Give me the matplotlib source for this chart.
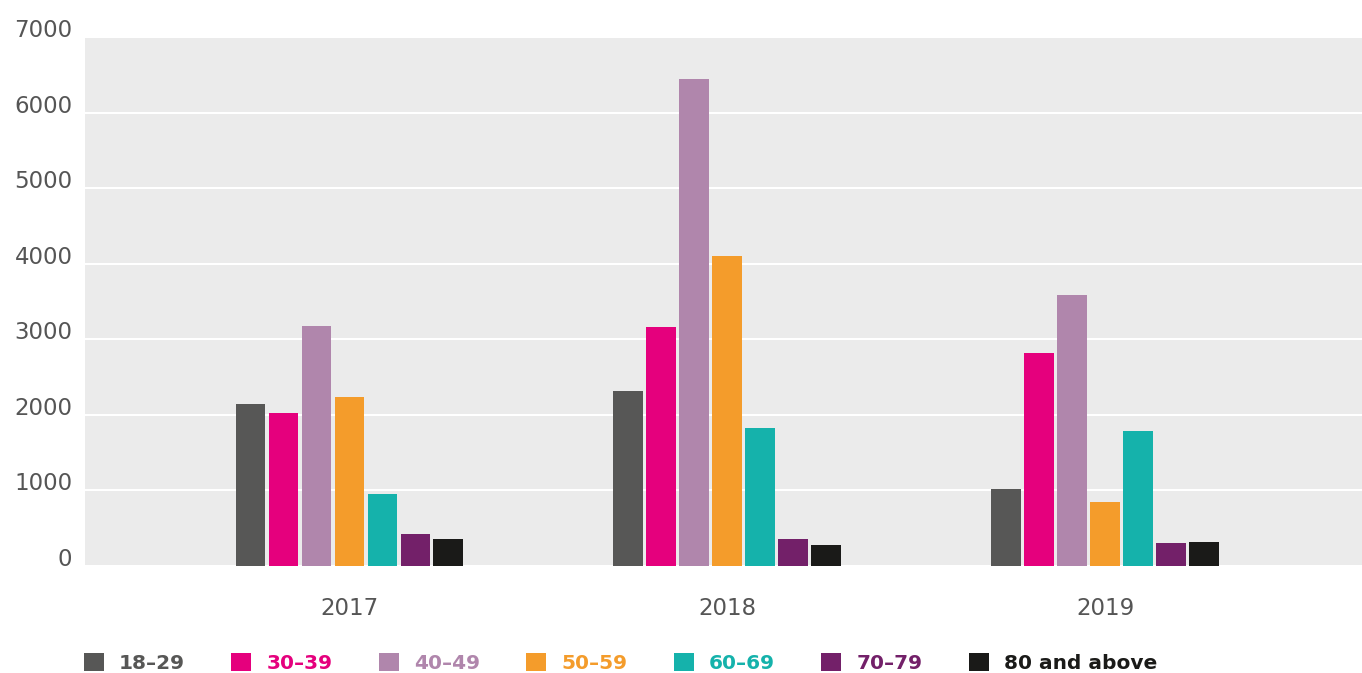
import numpy as np
import matplotlib.pyplot as plt
from matplotlib.patches import Patch

# data
years = ["2017", "2018", "2019"]
age_groups = ["18–29", "30–39", "40–49", "50–59", "60–69", "70–79", "80 and above"]
v_18_29 = [2150, 2310, 1015]
v_30_39 = [2020, 3165, 2815]
v_40_49 = [3170, 6440, 3585]
v_50_59 = [2230, 4100, 845]
v_60_69 = [950, 1825, 1785]
v_70_79 = [420, 355, 305]
v_80_up = [355, 280, 315]
series = [v_18_29, v_30_39, v_40_49, v_50_59, v_60_69, v_70_79, v_80_up]

colors = ["#575756", "#E5007D", "#B086AC", "#F49C2B", "#15B2AB", "#732069", "#1A1A18"]

plt.rcParams["font.family"] = ["DejaVu Sans"]

fig = plt.figure(figsize=(13.62, 6.73), dpi=100)
ax = fig.add_axes([0.0624, 0.159, 0.9376, 0.786])
ax.set_facecolor("#EBEBEB")

x = np.arange(len(years))
slot = 0.0873
width = 0.079
for i, (vals, c) in enumerate(zip(series, colors)):
    offs = (i - 3) * slot
    ax.bar(x + offs, vals, width=width, color=c, zorder=3)

ax.set_xlim(-0.7, 2.68)
ax.set_ylim(0, 7000)
ax.set_yticks(range(0, 7001, 1000))
ax.grid(axis="y", color="white", linewidth=1.5, zorder=1)
for s in ax.spines.values():
    s.set_visible(False)
ax.tick_params(axis="both", length=0, labelsize=16.5, labelcolor="#555555")
ax.tick_params(axis="y", pad=9)
ax.tick_params(axis="x", pad=22)
for lab in ax.get_yticklabels():
    lab.set_verticalalignment("baseline")
ax.set_xticks(x)
ax.set_xticklabels(years)

handles = [Patch(facecolor=c, edgecolor="none") for c in colors]
leg = fig.legend(handles, age_groups, loc="center left", bbox_to_anchor=(0.048, 0.015),
                 ncol=7, frameon=False, labelcolor=colors,
                 prop={"weight": "bold", "size": 14.5},
                 handlelength=1.0, handleheight=1.0, handletextpad=0.75,
                 columnspacing=2.3)

fig.savefig("out.png", dpi=100)
